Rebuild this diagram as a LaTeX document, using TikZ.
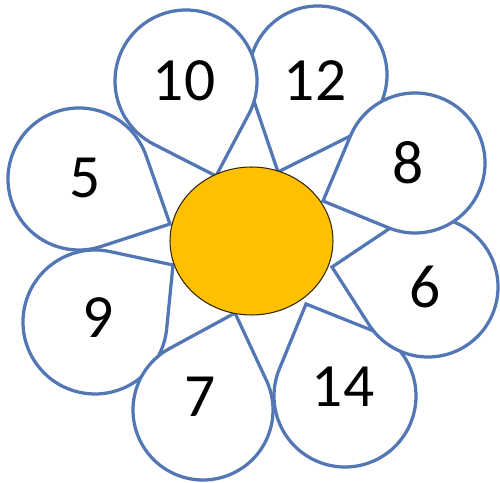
\documentclass[tikz,border=0pt]{standalone}
\usepackage{fontspec}
\setmainfont{Carlito}
\usetikzlibrary{calc, shapes.geometric}
\definecolor{c1}{HTML}{000000}
\definecolor{c2}{HTML}{5277B4}
\definecolor{c3}{HTML}{FFC000}

\begin{document}
\begin{tikzpicture}[
    x=0.02cm, y=0.02cm,
    petal/.style={draw=c2, fill=white, line width=1.85pt},
    num/.style={font=\fontsize{35}{35}\selectfont, text=c1, inner sep=0pt},
    heart/.style={ellipse, draw=c1!80!c3, fill=c3, line width=0.6pt,
                  minimum width=3.26cm, minimum height=2.96cm, inner sep=0pt},
]
\useasboundingbox (0,0) rectangle (500,483);

% ================================================== the petals, back to front
\foreach \t/\cx/\cy/\r/\tx/\ty/\lx/\ly in {
    12/318/408/69/278/311/315/402,
    10/186/402/71/216/307/184/402,
    5/79/304/71/170/259/85/305,
    9/95/161/72/173/218/98/165,
    7/203/73/70/235/170/200/86,
    14/345/87/71/306/179/343/96,
    6/428/196/70/332/216/425/196,
    8/415/320/70/323/282/408/320}{
  \coordinate (tip\t) at (\tx,\ty);
  \path let \n1={atan2(\ty-\cy,\tx-\cx)},
            \n2={acos(\r/veclen(\tx-\cx,\ty-\cy))} in
    [petal] (tip\t) -- ($(\cx,\cy)+(\n1+\n2:\r)$)
    arc[start angle=\n1+\n2, end angle=\n1-\n2+360, radius=\r] -- cycle;
  \node[num] (lab\t) at (\lx,\ly) {\t};}

% ================================================== the heart
\node[heart] (mid) at (251.5,242) {};

\end{tikzpicture}
\end{document}
